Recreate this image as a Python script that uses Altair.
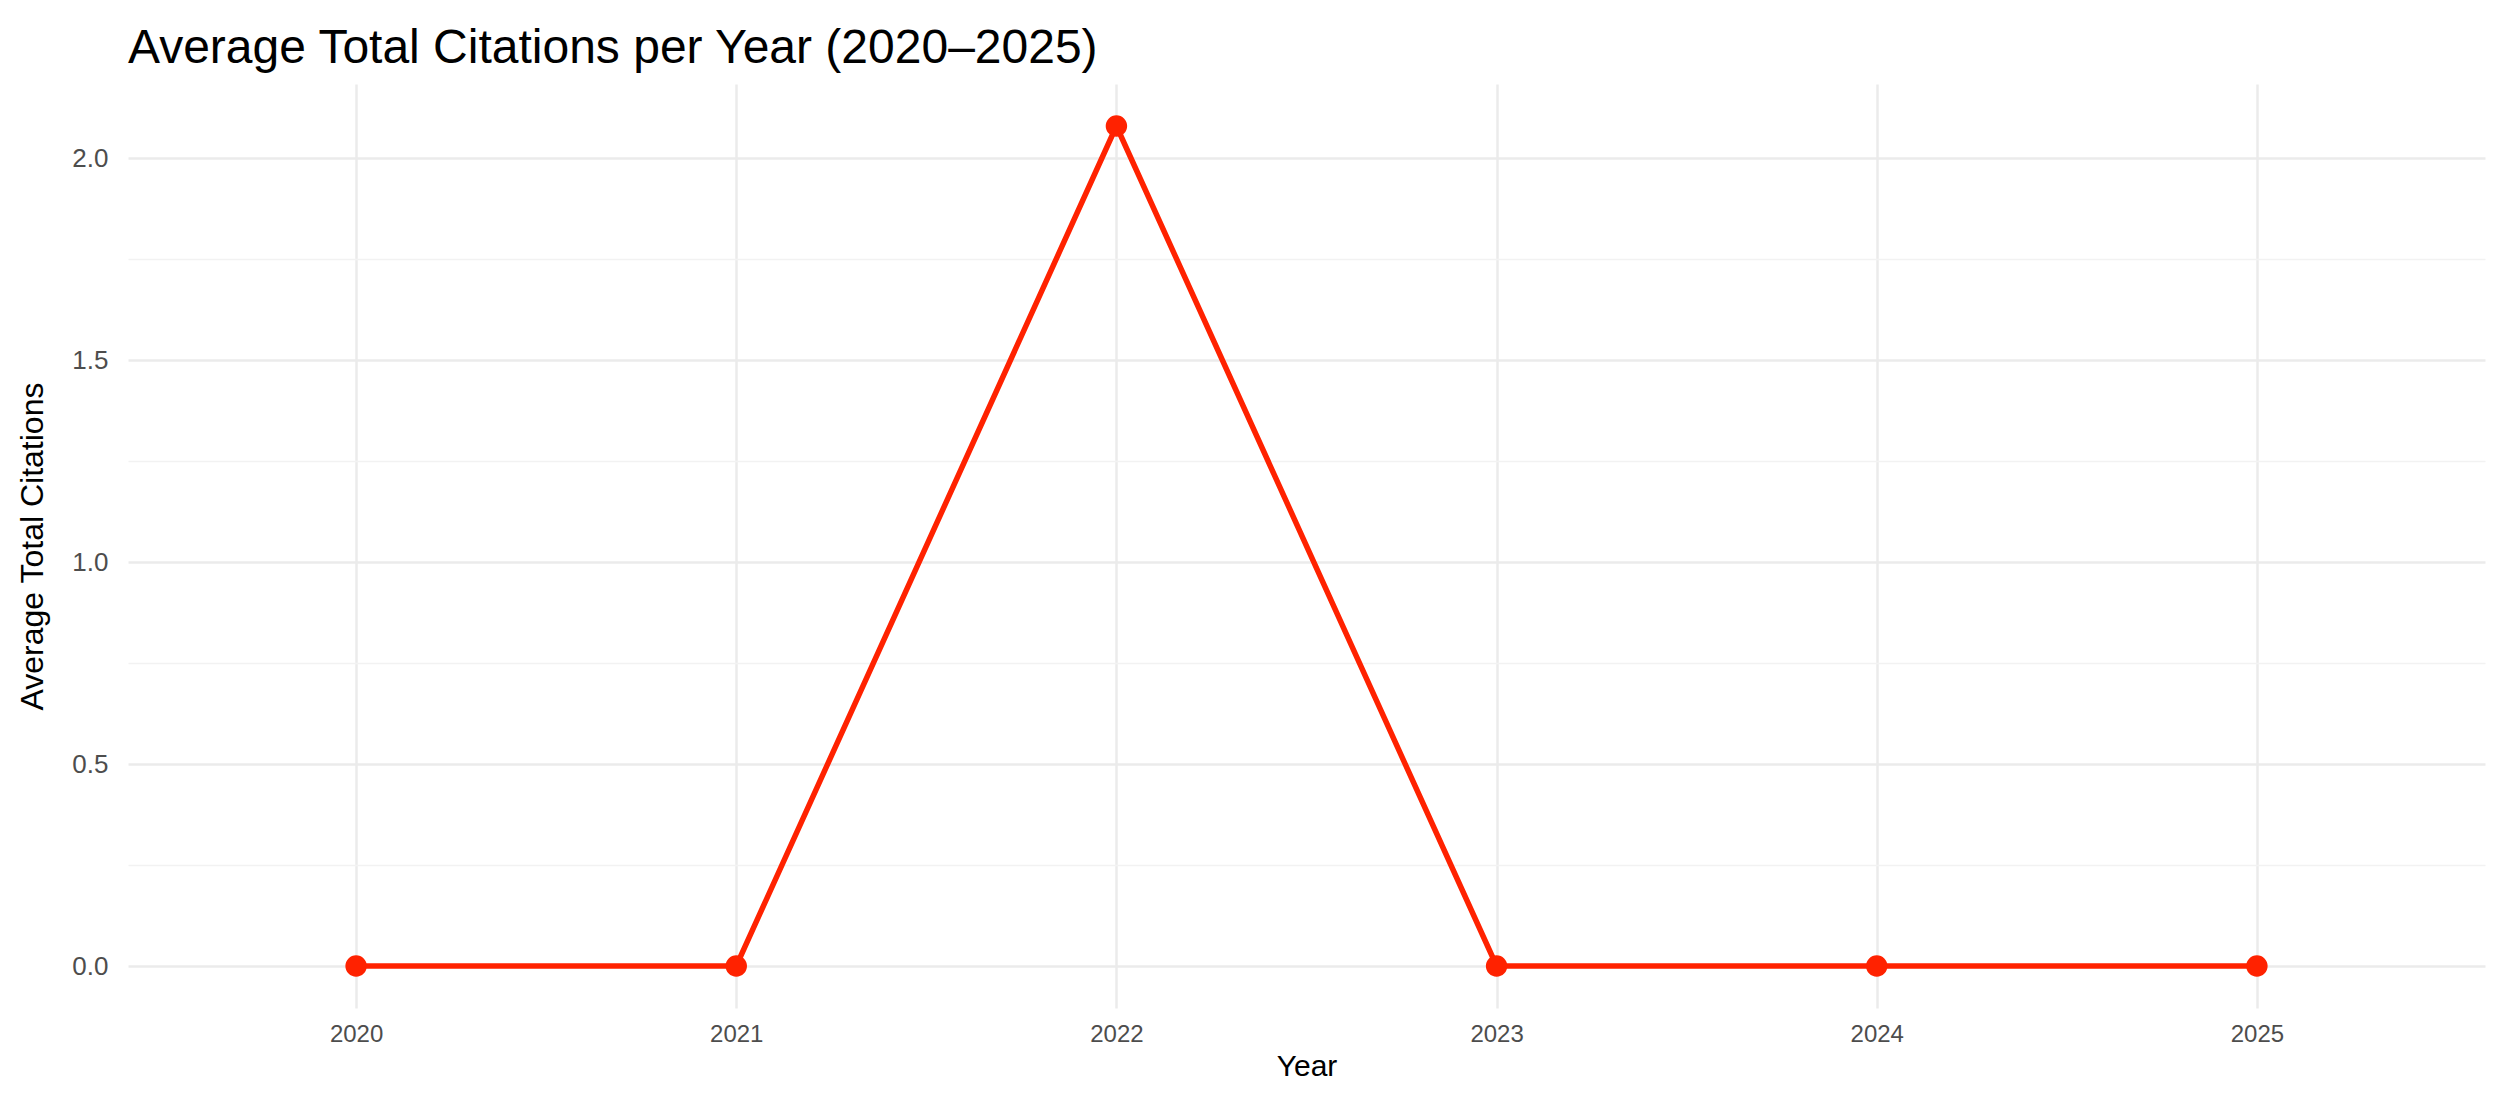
import altair as alt
import pandas as pd

years = ["2020", "2021", "2022", "2023", "2024", "2025"]
avg_citations = [0.0, 0.0, 2.08, 0.0, 0.0, 0.0]
y_ticks = [0.0, 0.25, 0.5, 0.75, 1.0, 1.25, 1.5, 1.75, 2.0]
y_domain = [-0.104, 2.184]

df = pd.DataFrame({"Year": years, "Avg": avg_citations})

FONT = "Liberation Sans"
RED = "#ff2200"

x_enc = alt.X(
    "Year:O",
    sort=years,
    scale=alt.Scale(type="point", padding=0.6),
    axis=alt.Axis(
        title="Year",
        labelAngle=0,
        labelFontSize=24,
        labelColor="#4d4d4d",
        labelPadding=14,
        titleFontSize=30,
        titleFontWeight="normal",
        titleColor="#000000",
        titlePadding=5,
        ticks=False,
        domain=False,
        grid=True,
        gridColor="#ebebeb",
        gridWidth=2.5,
    ),
)

y_enc = alt.Y(
    "Avg:Q",
    scale=alt.Scale(domain=y_domain, nice=False, zero=False),
    axis=alt.Axis(
        title="Average Total Citations",
        values=y_ticks,
        labelExpr="datum.value % 0.5 == 0 ? format(datum.value, '.1f') : ''",
        labelFontSize=26,
        labelColor="#4d4d4d",
        labelPadding=20,
        titleFontSize=32,
        titleFontWeight="normal",
        titleColor="#000000",
        titlePadding=22,
        ticks=False,
        domain=False,
        grid=True,
        gridColor={"condition": {"test": "datum.value % 0.5 != 0", "value": "#f2f2f2"}, "value": "#ebebeb"},
        gridWidth={"condition": {"test": "datum.value % 0.5 != 0", "value": 1.3}, "value": 2.5},
    ),
)

base = alt.Chart(df).encode(x=x_enc, y=y_enc)
line = base.mark_line(color=RED, strokeWidth=5.5)
pts = base.mark_circle(color=RED, size=460, opacity=1)

chart = (
    alt.layer(line, pts)
    .properties(
        width=2357,
        height=924,
        title=alt.TitleParams(
            "Average Total Citations per Year (2020\u20132025)",
            anchor="start",
            frame="group",
            fontSize=48,
            fontWeight="normal",
            font=FONT,
            color="#000000",
            offset=11,
        ),
        autosize=alt.AutoSizeParams(type="none"),
        padding={"left": 120, "top": 76, "right": 10, "bottom": 86},
    )
    .configure(font=FONT, background="white")
    .configure_view(stroke=None)
    .configure_axis(labelFont=FONT, titleFont=FONT)
)

chart.save("out.html", embed_options={"renderer": "svg", "actions": False})
